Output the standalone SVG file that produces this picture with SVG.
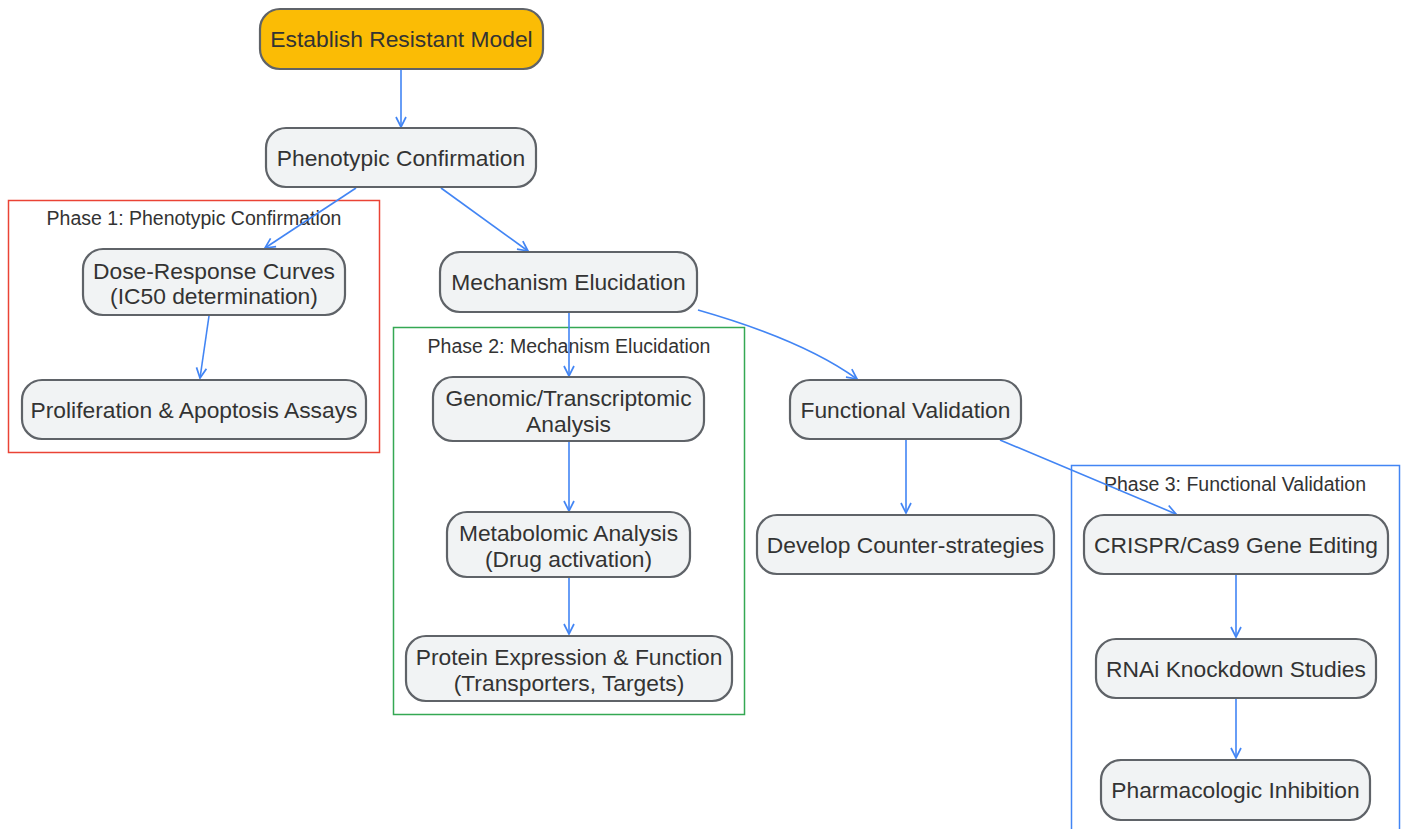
<svg xmlns="http://www.w3.org/2000/svg" width="1405" height="829" viewBox="0 0 1405 829">
<style>
.node rect{fill:#f1f3f4;stroke:#5f6368;stroke-width:2.2}
.node text{font-family:"Liberation Sans",Arial,sans-serif;font-size:22.8px;fill:#333;text-anchor:middle}
.phase text{font-family:"Liberation Sans",Arial,sans-serif;font-size:19.5px;fill:#333;text-anchor:middle}
.phase rect{fill:none;stroke-width:1.5}
.edges path{fill:none;stroke:#4285f4;stroke-width:1.6;marker-end:url(#arr)}
</style>
<defs>
<marker id="arr" viewBox="0 0 12 12" refX="11" refY="6" markerWidth="12" markerHeight="12" markerUnits="userSpaceOnUse" orient="auto">
<path d="M1,1 L11,6 L1,11" fill="none" stroke="#4285f4" stroke-width="1.7"/>
</marker>
</defs>
<g class="phase" id="phase1"><rect x="8.5" y="200.5" width="371" height="252" stroke="#ea4335"/><text x="194" y="224.5">Phase 1: Phenotypic Confirmation</text></g>
<g class="phase" id="phase2"><rect x="393.5" y="327.5" width="351" height="387" stroke="#34a853"/><text x="569" y="352.5">Phase 2: Mechanism Elucidation</text></g>
<g class="phase" id="phase3"><rect x="1071.5" y="465.5" width="328" height="380" stroke="#4285f4"/><text x="1235" y="490.5">Phase 3: Functional Validation</text></g>
<g class="edges" id="connectors">
<path d="M401,69 L401,127"/>
<path d="M356,188 L265,248"/>
<path d="M441,188 L528,251"/>
<path d="M209,316 L200,378"/>
<path d="M569,313 L569,376"/>
<path d="M698,310 C740,322 810,345 857,379"/>
<path d="M569,442 L569,511"/>
<path d="M569,578 L569,634"/>
<path d="M906,440 L906,513"/>
<path d="M1000,440 L1176,514"/>
<path d="M1236,575 L1236,637"/>
<path d="M1236,699 L1236,758"/>
</g>
<g class="node" id="establish"><rect x="260" y="9" width="283" height="60" rx="20" style="fill:#fbbc05"/><text x="401.5" y="47">Establish Resistant Model</text></g>
<g class="node" id="phenotypic"><rect x="266" y="128" width="270" height="59" rx="20"/><text x="401" y="165.5">Phenotypic Confirmation</text></g>
<g class="node" id="dose"><rect x="83" y="249" width="262" height="66" rx="20"/><text x="214" y="279">Dose-Response Curves</text><text x="214" y="304">(IC50 determination)</text></g>
<g class="node" id="prolif"><rect x="22" y="380" width="344" height="59" rx="20"/><text x="194" y="417.5">Proliferation &amp; Apoptosis Assays</text></g>
<g class="node" id="mechanism"><rect x="440" y="252" width="257" height="60" rx="20"/><text x="568.5" y="290">Mechanism Elucidation</text></g>
<g class="node" id="genomic"><rect x="433" y="377" width="271" height="64" rx="20"/><text x="568.5" y="406">Genomic/Transcriptomic</text><text x="568.5" y="432">Analysis</text></g>
<g class="node" id="metabolomic"><rect x="447" y="512" width="243" height="65" rx="20"/><text x="568.5" y="541">Metabolomic Analysis</text><text x="568.5" y="567">(Drug activation)</text></g>
<g class="node" id="protein"><rect x="406" y="636" width="326" height="65" rx="20"/><text x="569" y="665">Protein Expression &amp; Function</text><text x="569" y="691">(Transporters, Targets)</text></g>
<g class="node" id="functional"><rect x="790" y="380" width="231" height="59" rx="20"/><text x="905.5" y="418">Functional Validation</text></g>
<g class="node" id="develop"><rect x="757" y="515" width="297" height="59" rx="20"/><text x="905.5" y="553">Develop Counter-strategies</text></g>
<g class="node" id="crispr"><rect x="1084" y="515" width="304" height="59" rx="20"/><text x="1236" y="553">CRISPR/Cas9 Gene Editing</text></g>
<g class="node" id="rnai"><rect x="1096" y="639" width="280" height="59" rx="20"/><text x="1236" y="677">RNAi Knockdown Studies</text></g>
<g class="node" id="pharm"><rect x="1101" y="760" width="269" height="60" rx="20"/><text x="1235.5" y="798">Pharmacologic Inhibition</text></g>
</svg>
